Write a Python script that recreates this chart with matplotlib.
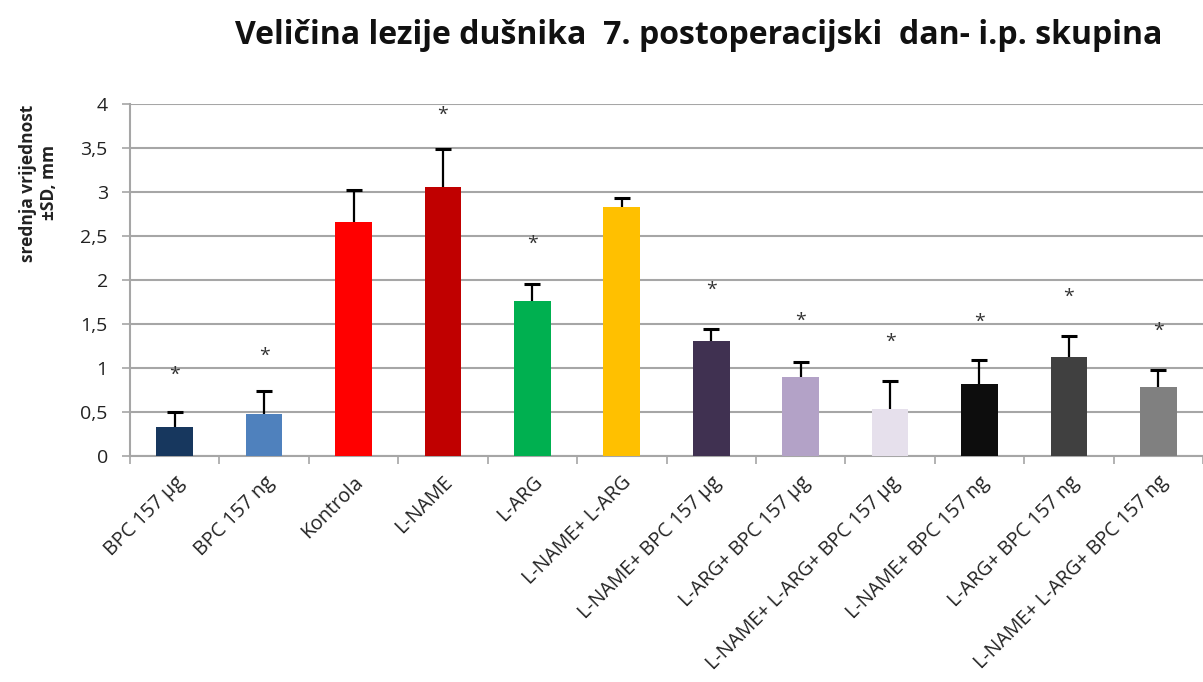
import matplotlib.pyplot as plt
from matplotlib.ticker import FuncFormatter

# podaci
kategorije = ["BPC 157 µg", "BPC 157 ng", "Kontrola", "L-NAME", "L-ARG",
              "L-NAME+ L-ARG", "L-NAME+ BPC 157 µg", "L-ARG+ BPC 157 µg",
              "L-NAME+ L-ARG+ BPC 157 µg", "L-NAME+ BPC 157 ng",
              "L-ARG+ BPC 157 ng", "L-NAME+ L-ARG+ BPC 157 ng"]
srednje = [0.33, 0.475, 2.66, 3.06, 1.76, 2.83, 1.31, 0.90, 0.53, 0.82, 1.12, 0.78]
sd = [0.17, 0.265, 0.36, 0.43, 0.19, 0.10, 0.13, 0.17, 0.32, 0.27, 0.24, 0.20]
zvjezdica = [0.92, 1.14, None, 3.88, 2.41, None, 1.89, 1.53, 1.30, 1.52, 1.81, 1.42]
boje = ["#17375E", "#4F81BD", "#FF0000", "#C00000", "#00B050", "#FFC000",
        "#403151", "#B3A2C7", "#E6E0EC", "#0D0D0D", "#404040", "#808080"]

plt.rcParams['font.family'] = ['Open Sans', 'DejaVu Sans']

fig = plt.figure(figsize=(12.03, 6.82), dpi=100)
ax = fig.add_axes([130 / 1203, 1 - 455.7 / 682, (1203 - 130) / 1203, (455.7 - 104.3) / 682])

x = list(range(len(kategorije)))
vrh = [m + s for m, s in zip(srednje, sd)]
ax.bar(x, srednje, width=0.41, color=boje, zorder=3)
# samo gornji dio SD
ax.vlines(x, srednje, vrh, color='black', linewidth=1.6, zorder=4)
ax.plot(x, vrh, linestyle='none', marker='_', markersize=11, markeredgewidth=2.2,
        color='black', zorder=4)

for i, z in enumerate(zvjezdica):
    if z is not None:
        ax.text(i, z, "*", ha='center', va='center', fontsize=14,
                color='#333333', zorder=5)

# osi
ax.set_ylim(0, 4)
ax.set_xlim(-0.5, 11.38)
ax.set_yticks([0, 0.5, 1, 1.5, 2, 2.5, 3, 3.5, 4])
ax.yaxis.set_major_formatter(FuncFormatter(lambda v, p: f"{v:g}".replace('.', ',')))
ax.yaxis.grid(True, color='#A6A6A6', linewidth=1.5, zorder=0)
ax.set_axisbelow(True)

ax.set_xticks([i - 0.5 for i in range(len(kategorije) + 1)])
ax.set_xticklabels([])
ax.set_xticks(x, minor=True)
ax.set_xticklabels(kategorije, minor=True, rotation=45, ha='right', va='top',
                   rotation_mode='anchor', fontsize=14.2, color='#222222')
ax.tick_params(axis='x', which='minor', length=0, pad=12)
ax.tick_params(axis='x', which='major', length=6, color='#A6A6A6', width=1.2)
ax.tick_params(axis='y', length=6, color='#A6A6A6', width=1.2, labelsize=14,
               labelcolor='#222222', pad=10)

for s in ['top', 'right']:
    ax.spines[s].set_visible(False)
ax.spines['left'].set_color('#A6A6A6')
ax.spines['bottom'].set_color('#A6A6A6')
ax.spines['left'].set_linewidth(1.5)
ax.spines['bottom'].set_linewidth(1.5)

fig.text(0.032, 1 - 183 / 682, "srednja vrijednost\n±SD, mm", rotation=90,
         ha='center', va='center', fontsize=12.5, fontweight='bold', color='#222222')
fig.text(699 / 1203, 1 - 36 / 682,
         "Veličina lezije dušnika  7. postoperacijski  dan- i.p. skupina",
         ha='center', va='center', fontsize=23, fontweight='bold', color='#111111')

fig.savefig("out.png", dpi=100)
